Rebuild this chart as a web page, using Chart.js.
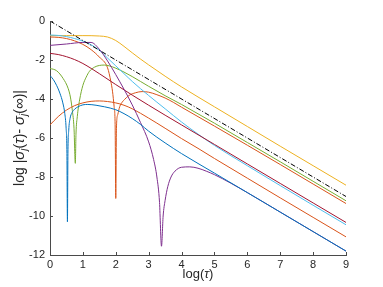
<!DOCTYPE html>
<html>
<head>
<meta charset="utf-8">
<script src="https://cdn.jsdelivr.net/npm/chart.js@4/dist/chart.umd.min.js"></script>
<style>
html,body{margin:0;padding:0;background:#fff;}
#wrap{position:relative;width:383px;height:287px;}
</style>
</head>
<body>
<div id="wrap"><canvas id="c" width="383" height="287"></canvas></div>
<script>
// ---- data (x = log(tau), y = log|sigma_j(tau) - sigma_j(inf)|) ----
const xTicks = [0,1,2,3,4,5,6,7,8,9];
const yTicks = [0,-2,-4,-6,-8,-10,-12];

const blackX = [0, 9];
const blackY = [0, -9];

const yellowX = [0,0.5,1,1.5,1.75,2,2.25,2.5,2.75,3,3.5,4,5,6,7,8,9];
const yellowY = [-0.75,-0.75,-0.75,-0.77,-0.82,-1.0,-1.3,-1.63,-1.95,-2.25,-2.83,-3.38,-4.4,-5.41,-6.42,-7.42,-8.42];

const lightBlueX = [0,0.25,0.5,0.75,1,1.25,1.5,1.75,2,2.25,2.5,3,3.5,4,4.5,5,6,7,8,9];
const lightBlueY = [-0.72,-0.74,-0.8,-0.9,-1.03,-1.22,-1.5,-1.9,-2.3,-2.7,-3.1,-3.82,-4.5,-5.18,-5.8,-6.38,-7.42,-8.44,-9.45,-10.45];

const orangeX = [0,0.25,0.5,0.75,1,1.25,1.5,1.75,1.85,1.9,1.95,1.98,2.0,2.02,2.06,2.12,2.2,2.27,2.4,2.6,2.8,3.0,3.25,3.5,3.75,4,5,6,7,8,9];
const orangeY = [-0.82,-0.84,-0.9,-1.02,-1.2,-1.47,-1.85,-2.4,-3.1,-3.6,-4.4,-5.3,-9.1,-5.5,-4.8,-4.39,-4.15,-4.02,-3.82,-3.68,-3.62,-3.65,-3.78,-3.95,-4.17,-4.42,-5.39,-6.37,-7.36,-8.36,-9.36];

const blueX = [0,0.1,0.2,0.3,0.39,0.45,0.49,0.515,0.53,0.545,0.57,0.61,0.67,0.75,0.85,1.0,1.15,1.4,1.66,2.0,2.25,2.5,2.75,3,3.5,4,5,6,7,8,9];
const blueY = [-2.8,-3.0,-3.3,-3.7,-4.2,-4.75,-5.5,-6.8,-10.3,-6.8,-5.6,-5.0,-4.7,-4.52,-4.4,-4.3,-4.28,-4.32,-4.4,-4.55,-4.75,-5.0,-5.3,-5.65,-6.25,-6.8,-7.8,-8.8,-9.8,-10.8,-11.8];

const greenX = [0,0.2,0.4,0.55,0.62,0.68,0.73,0.77,0.79,0.83,0.9,1.0,1.1,1.2,1.35,1.5,1.65,1.8,2.0,2.25,2.5,3,3.5,4,4.5,5,6,7,8,9];
const greenY = [-2.43,-2.55,-2.95,-3.45,-3.9,-4.6,-5.5,-7.3,-5.8,-4.9,-4.05,-3.3,-2.88,-2.58,-2.37,-2.28,-2.26,-2.3,-2.42,-2.62,-2.85,-3.35,-3.83,-4.28,-4.76,-5.24,-6.23,-7.22,-8.22,-9.22];

const darkRedX = [0,0.25,0.5,0.75,1,1.25,1.5,2,2.5,3,3.5,4,5,6,7,8,9];
const darkRedY = [-1.66,-1.72,-1.83,-1.98,-2.18,-2.43,-2.7,-3.26,-3.8,-4.32,-4.83,-5.33,-6.33,-7.33,-8.33,-9.33,-10.33];

const purpleX = [0,0.5,1,1.25,1.5,1.75,2,2.25,2.5,2.75,3,3.15,3.25,3.33,3.39,3.44,3.5,3.58,3.68,3.8,4,4.25,4.5,4.75,5,5.5,6,7,8,9];
const purpleY = [-1.25,-1.18,-1.1,-1.1,-1.45,-2.05,-2.75,-3.5,-4.3,-5.2,-6.2,-7.1,-8.0,-9.3,-11.55,-10.0,-9.2,-8.5,-8.0,-7.7,-7.5,-7.48,-7.55,-7.7,-7.88,-8.32,-8.8,-9.8,-10.8,-11.8];

const orange2X = [0,0.25,0.5,0.75,1,1.25,1.5,1.75,2,2.25,2.5,3,3.5,4,4.5,5,6,7,8,9];
const orange2Y = [-5.33,-4.9,-4.57,-4.34,-4.2,-4.12,-4.1,-4.13,-4.2,-4.32,-4.5,-4.98,-5.5,-6.03,-6.53,-7.05,-8.06,-9.07,-10.07,-11.07];

function pts(xs, ys){ return xs.map((x,i)=>({x:x, y:ys[i]})); }
function ds(xs, ys, color, extra){
  return Object.assign({
    data: pts(xs, ys), borderColor: color, backgroundColor: color,
    borderWidth: 1, pointRadius: 0, fill: false,
    cubicInterpolationMode: 'monotone'
  }, extra||{});
}

const datasets = [
  ds(blackX, blackY, '#000000', {borderDash:[5,2,1,2], cubicInterpolationMode:'default', tension:0}),
  ds(blueX, blueY, '#0072BD'),
  ds(purpleX, purpleY, '#7E2F8E'),
  ds(orange2X, orange2Y, '#D95319'),
  ds(darkRedX, darkRedY, '#A2142F'),
  ds(lightBlueX, lightBlueY, '#4DBEEE'),
  ds(greenX, greenY, '#77AC30'),
  ds(orangeX, orangeY, '#D95319'),
  ds(yellowX, yellowY, '#EDB120')
];

const AXIS = '#4a4a4a';
const TXT = '#262626';

const decor = {
  id: 'decor',
  afterDraw(chart){
    const ctx = chart.ctx, xs = chart.scales.x, ys = chart.scales.y;
    const a = chart.chartArea;
    ctx.save();
    ctx.strokeStyle = AXIS; ctx.lineWidth = 1;
    ctx.beginPath();
    xs.ticks.forEach(t=>{ const p = Math.round(xs.getPixelForValue(t.value))+0.5; ctx.moveTo(p, a.bottom); ctx.lineTo(p, a.bottom-3); });
    ys.ticks.forEach(t=>{ const p = Math.round(ys.getPixelForValue(t.value))+0.5; ctx.moveTo(a.left, p); ctx.lineTo(a.left+3, p); });
    ctx.stroke();
    ctx.fillStyle = TXT;
    ctx.textBaseline = 'alphabetic';
    const F = 'Liberation Sans, Arial, sans-serif';
    function drawSegs(segs, cx, cy, rot){
      ctx.save();
      ctx.translate(cx, cy);
      if (rot) ctx.rotate(-Math.PI/2);
      let w = 0;
      segs.forEach(s=>{ ctx.font = s.f; s.w = ctx.measureText(s.t).width; w += s.w; });
      let x = -w/2;
      segs.forEach(s=>{ ctx.font = s.f; ctx.fillText(s.t, x, s.dy||0); x += s.w; });
      ctx.restore();
    }
    const n = '13px ' + F, it = 'italic 13px ' + F;
    const n2 = '14px ' + F, it2 = 'italic 15px ' + F, sub = 'italic 10px ' + F, inf = '15px ' + F;
    // x label
    drawSegs([{t:'log(',f:n},{t:'\u03C4',f:it},{t:')',f:n}], (a.left+a.right)/2, 278, false);
    // y label
    drawSegs([
      {t:'log |',f:n2},{t:'\u03C3',f:it2},{t:'j',f:sub,dy:3},{t:'(',f:n2},{t:'\u03C4',f:it2},{t:')- ',f:n2},
      {t:'\u03C3',f:it2},{t:'j',f:sub,dy:3},{t:'(',f:n2},{t:'\u221E',f:inf},{t:')|',f:n2}
    ], 24, (a.top+a.bottom)/2, true);
    ctx.restore();
  }
};

new Chart(document.getElementById('c'), {
  type: 'line',
  data: { datasets },
  plugins: [decor],
  options: {
    responsive: false,
    animation: false,
    devicePixelRatio: 1,
    layout: { padding: { left: 0, right: 37, top: 21, bottom: 0 } },
    plugins: { legend: {display:false}, tooltip: {enabled:false}, title:{display:false} },
    scales: {
      x: {
        type: 'linear', min: 0, max: 9,
        afterFit(s){ s.height = 32; },
        afterBuildTicks(s){ s.ticks = xTicks.map(v=>({value:v})); },
        ticks: { color: TXT, font: {size: 11, family: 'Liberation Sans, Arial, sans-serif'}, padding: 3, maxRotation: 0 },
        grid: { display: true, drawOnChartArea: false, drawTicks: false },
        border: { display: true, color: AXIS, width: 1 }
      },
      y: {
        type: 'linear', min: -12, max: 0,
        afterFit(s){ s.width = 50; },
        afterBuildTicks(s){ s.ticks = yTicks.map(v=>({value:v})); },
        ticks: { color: TXT, font: {size: 11, family: 'Liberation Sans, Arial, sans-serif'}, padding: 5 },
        grid: { display: true, drawOnChartArea: false, drawTicks: false },
        border: { display: true, color: AXIS, width: 1 }
      }
    }
  }
});
</script>
</body>
</html>
